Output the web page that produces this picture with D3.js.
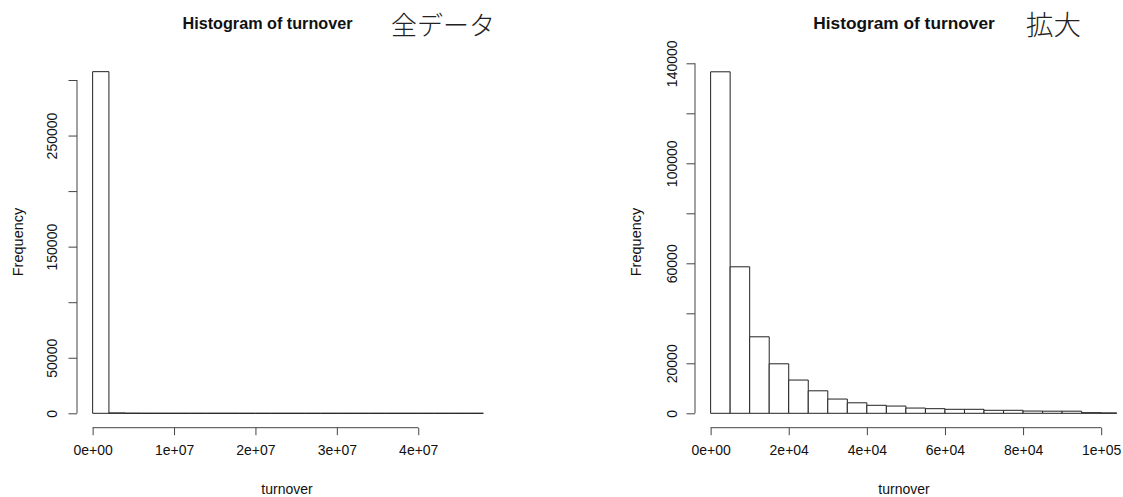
<!DOCTYPE html>
<html>
<head>
<meta charset="utf-8">
<script src="https://cdn.jsdelivr.net/npm/d3@7"></script>
<style>
  html, body { margin: 0; padding: 0; background: #fff; }
  svg { display: block; }
  text { font-family: "Liberation Sans", Arial, sans-serif; fill: #111; }
</style>
</head>
<body>
<svg id="chart" width="1123" height="497"></svg>
<script>
// Histogram of turnover: full range (bin width 2e6)
const fullBinWidth = 2e6;
const fullCounts = [307500, 320, 90, 40, 20, 12, 8, 5, 3, 2, 2, 1, 1, 0, 1, 0, 0, 0, 0, 0, 0, 0, 0, 1];
const fullXTicks = [0, 1e7, 2e7, 3e7, 4e7];
const fullXTickLabels = ["0e+00", "1e+07", "2e+07", "3e+07", "4e+07"];
const fullYTicks = [0, 50000, 100000, 150000, 200000, 250000, 300000];
const fullYTickLabels = ["0", "50000", "", "150000", "", "250000", ""];

// Histogram of turnover: zoomed to 0..1e5 (bin width 5000)
const zoomBinWidth = 5000;
const zoomCounts = [136600, 58600, 30600, 19800, 13300, 9000, 5700, 4200, 3200, 2900,
                    2100, 1850, 1600, 1600, 1200, 1200, 900, 850, 850, 250,
                    150, 120, 90, 80];
const zoomXTicks = [0, 20000, 40000, 60000, 80000, 100000];
const zoomXTickLabels = ["0e+00", "2e+04", "4e+04", "6e+04", "8e+04", "1e+05"];
const zoomYTicks = [0, 20000, 40000, 60000, 80000, 100000, 120000, 140000];
const zoomYTickLabels = ["0", "20000", "", "60000", "", "100000", "", "140000"];

const svg = d3.select("#chart");

function drawPanel(cfg) {
  const g = svg.append("g");
  const x = d3.scaleLinear().domain(cfg.xDomain).range([cfg.left, cfg.right]);
  const y = d3.scaleLinear().domain(cfg.yDomain).range([cfg.bottom, cfg.top]);

  const bins = cfg.counts.map((c, i) => ({ x0: i * cfg.binWidth, x1: (i + 1) * cfg.binWidth, n: c }));

  // bars are clipped to the plot region horizontally
  const clipId = "clip-" + cfg.id;
  svg.append("defs").append("clipPath").attr("id", clipId)
    .append("rect")
    .attr("x", cfg.left).attr("y", 0)
    .attr("width", cfg.right - cfg.left).attr("height", cfg.bottom + 5);

  // each bar is an outlined path so that empty bins still show along the baseline
  g.append("g").attr("clip-path", `url(#${clipId})`)
    .selectAll("path").data(bins).join("path")
    .attr("d", d => {
      const x0 = x(d.x0), x1 = x(d.x1), y0 = y(0), y1 = y(d.n);
      return `M${x0},${y0}V${y1}H${x1}V${y0}Z`;
    })
    .attr("fill", "#fff")
    .attr("stroke", "#222")
    .attr("stroke-width", 1);

  // x axis: line from first to last tick, ticks pointing down
  const xAxis = d3.axisBottom(x).tickValues(cfg.xTicks)
    .tickFormat((d, i) => cfg.xTickLabels[i]).tickSize(7.5).tickPadding(10);
  const gx = g.append("g").attr("transform", `translate(0,${cfg.axisY})`).call(xAxis);
  gx.select(".domain").attr("d",
    `M${x(cfg.xTicks[0])},0H${x(cfg.xTicks[cfg.xTicks.length - 1])}`);
  gx.selectAll("path, line").attr("stroke", "#444");
  gx.selectAll("text").attr("font-size", 14).attr("fill", "#111")
    .attr("font-family", "Liberation Sans, Arial, sans-serif");

  // y axis: vertical tick labels
  const yAxis = d3.axisLeft(y).tickValues(cfg.yTicks)
    .tickFormat((d, i) => cfg.yTickLabels[i]).tickSize(8.5);
  const gy = g.append("g").attr("transform", `translate(${cfg.axisX},0)`).call(yAxis);
  gy.select(".domain").attr("d",
    `M0,${y(cfg.yTicks[0])}V${y(cfg.yTicks[cfg.yTicks.length - 1])}`);
  gy.selectAll("path, line").attr("stroke", "#444");
  gy.selectAll(".tick text")
    .attr("x", null).attr("dy", null)
    .attr("text-anchor", "middle")
    .attr("transform", `translate(${-cfg.axisX + cfg.yLabelX},0) rotate(-90)`)
    .attr("font-size", 14).attr("fill", "#111")
    .attr("font-family", "Liberation Sans, Arial, sans-serif");

  // titles and axis labels
  g.append("text").attr("x", cfg.titleX).attr("y", 29)
    .attr("text-anchor", "middle").attr("font-weight", "bold")
    .attr("font-size", cfg.titleSize).text("Histogram of turnover");
  g.append("text").attr("x", cfg.tagX).attr("y", 35)
    .attr("font-weight", 300).attr("font-size", cfg.tagSize)
    .style("fill", "#222").style("font-family", "'Noto Sans CJK JP', sans-serif")
    .text(cfg.tag);
  g.append("text").attr("x", cfg.xLabelX).attr("y", 494)
    .attr("text-anchor", "middle").attr("font-size", 14).text("turnover");
  g.append("text")
    .attr("transform", `translate(${cfg.freqX},242) rotate(-90)`)
    .attr("text-anchor", "middle").attr("font-size", 14.5).text("Frequency");
}

drawPanel({
  id: "full", counts: fullCounts, binWidth: fullBinWidth,
  xDomain: [-1.92e6, 4.992e7], yDomain: [0, 300000],
  left: 77, right: 499, bottom: 413.3, top: 80,
  axisY: 427.7, axisX: 77,
  xTicks: fullXTicks, xTickLabels: fullXTickLabels,
  yTicks: fullYTicks, yTickLabels: fullYTickLabels,
  yLabelX: 56.5, freqX: 23,
  titleX: 267.5, titleSize: 16.2, tag: "全データ", tagX: 391, tagSize: 26,
  xLabelX: 287
});

drawPanel({
  id: "zoom", counts: zoomCounts, binWidth: zoomBinWidth,
  xDomain: [-4000, 104000], yDomain: [0, 140000],
  left: 695, right: 1116.8, bottom: 413.3, top: 63.3,
  axisY: 427.7, axisX: 695,
  xTicks: zoomXTicks, xTickLabels: zoomXTickLabels,
  yTicks: zoomYTicks, yTickLabels: zoomYTickLabels,
  yLabelX: 676.5, freqX: 641,
  titleX: 904, titleSize: 17.3, tag: "拡大", tagX: 1026, tagSize: 27.5,
  xLabelX: 904
});
</script>
</body>
</html>
